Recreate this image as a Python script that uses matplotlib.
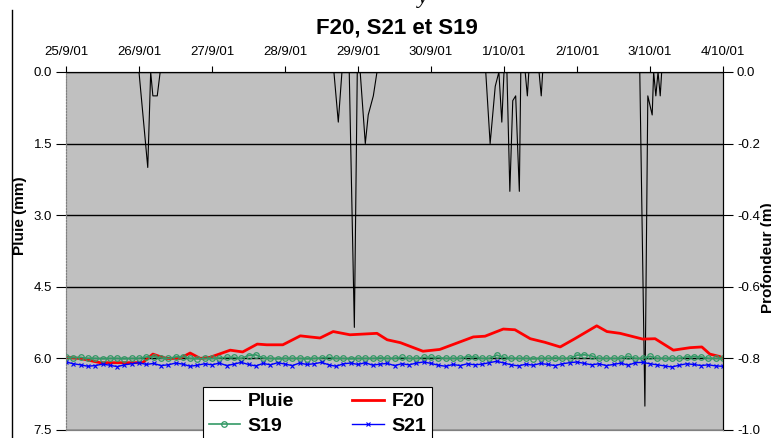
import numpy as np
import matplotlib.pyplot as plt
from matplotlib.lines import Line2D

plt.rcParams['font.family'] = ['Liberation Sans', 'DejaVu Sans']

# Axe du temps : jours depuis le 25/9/01
date_labels = ["25/9/01", "26/9/01", "27/9/01", "28/9/01", "29/9/01",
               "30/9/01", "1/10/01", "2/10/01", "3/10/01", "4/10/01"]

# Pluie (mm)
rain_t = [0.00, 1.00, 1.12, 1.16, 1.19, 1.25, 1.29,
          3.67, 3.73, 3.78, 3.88, 3.95, 3.99, 4.03, 4.10, 4.14, 4.21, 4.26,
          5.75, 5.81, 5.88, 5.93, 5.97, 6.00, 6.04, 6.08, 6.12, 6.16, 6.21, 6.23,
          6.29, 6.32, 6.34, 6.48, 6.51, 6.53,
          7.86, 7.93, 7.97, 8.03, 8.05, 8.08, 8.11, 8.14, 8.16, 9.00]
rain_mm = [0.0, 0.0, 2.0, 0.0, 0.5, 0.5, 0.0,
           0.0, 1.05, 0.0, 0.0, 5.35, 0.0, 0.0, 1.5, 0.9, 0.5, 0.0,
           0.0, 1.5, 0.3, 0.0, 1.05, 0.0, 0.0, 2.5, 0.6, 0.5, 2.5, 0.0,
           0.0, 0.5, 0.0, 0.0, 0.5, 0.0,
           0.0, 7.0, 0.5, 0.9, 0.0, 0.5, 0.0, 0.5, 0.0, 0.0]

# F20 (profondeur, m)
f20_t = [0.00, 0.19, 0.47, 1.05, 1.19, 1.29, 1.38, 1.56, 1.70, 1.84, 1.97,
         2.07, 2.25, 2.42, 2.62, 2.75, 2.97, 3.21, 3.34, 3.48, 3.66, 3.89,
         4.26, 4.40, 4.58, 4.89, 5.12, 5.58, 5.74, 5.99, 6.15, 6.36, 6.56,
         6.77, 6.97, 7.27, 7.41, 7.59, 7.90, 8.07, 8.32, 8.55, 8.71, 8.82,
         8.96, 9.00]
f20 = [-0.797, -0.800, -0.812, -0.812, -0.788, -0.795, -0.800, -0.800, -0.785,
       -0.800, -0.797, -0.790, -0.777, -0.782, -0.760, -0.762, -0.762, -0.737,
       -0.740, -0.743, -0.725, -0.734, -0.730, -0.748, -0.756, -0.780, -0.775,
       -0.740, -0.738, -0.718, -0.720, -0.745, -0.755, -0.768, -0.745, -0.709,
       -0.725, -0.730, -0.746, -0.745, -0.777, -0.770, -0.768, -0.788, -0.795,
       -0.800]

# S19 et S21, un point tous les 0.1 jour
s19 = [-0.797, -0.798, -0.797, -0.800, -0.800, -0.801, -0.800, -0.800, -0.801, -0.800,
       -0.800, -0.796, -0.795, -0.799, -0.800, -0.796, -0.795, -0.800, -0.801, -0.800,
       -0.800, -0.799, -0.797, -0.797, -0.800, -0.792, -0.790, -0.799, -0.800, -0.801,
       -0.800, -0.800, -0.800, -0.801, -0.800, -0.799, -0.797, -0.800, -0.800, -0.801,
       -0.800, -0.800, -0.800, -0.799, -0.800, -0.800, -0.797, -0.800, -0.800, -0.797,
       -0.797, -0.798, -0.800, -0.800, -0.800, -0.795, -0.796, -0.800, -0.800, -0.791,
       -0.797, -0.800, -0.800, -0.800, -0.801, -0.800, -0.800, -0.799, -0.800, -0.800,
       -0.791, -0.790, -0.793, -0.800, -0.800, -0.800, -0.800, -0.794, -0.800, -0.800,
       -0.794, -0.800, -0.800, -0.800, -0.800, -0.796, -0.795, -0.796, -0.800, -0.800,
       -0.800]
s21 = [-0.810, -0.815, -0.818, -0.822, -0.820, -0.816, -0.819, -0.823, -0.818, -0.815,
       -0.812, -0.817, -0.814, -0.820, -0.818, -0.813, -0.816, -0.822, -0.819, -0.815,
       -0.818, -0.813, -0.820, -0.816, -0.811, -0.817, -0.821, -0.814, -0.818, -0.812,
       -0.816, -0.820, -0.813, -0.817, -0.815, -0.811, -0.818, -0.822, -0.815, -0.813,
       -0.817, -0.812, -0.819, -0.816, -0.814, -0.820, -0.815, -0.818, -0.813, -0.810,
       -0.814, -0.819, -0.822, -0.817, -0.820, -0.815, -0.818, -0.816, -0.812, -0.808,
       -0.813, -0.818, -0.821, -0.816, -0.819, -0.814, -0.817, -0.820, -0.815, -0.812,
       -0.810, -0.814, -0.818, -0.815, -0.820, -0.817, -0.813, -0.819, -0.812, -0.811,
       -0.815, -0.818, -0.821, -0.824, -0.819, -0.815, -0.817, -0.820, -0.818, -0.821,
       -0.822]
s_t = np.arange(len(s19)) / 10.0

W, H = 771, 438
fig = plt.figure(figsize=(W / 100, H / 100), dpi=100)
ax = fig.add_axes([66 / W, 1 - 430 / H, (723 - 66) / W, (430 - 72) / H])
ax.set_facecolor('#c0c0c0')
ax2 = ax.twinx()

# Pluie sur l'axe de gauche (inversé)
l_pluie, = ax.plot(rain_t, rain_mm, color='black', lw=0.8, label='Pluie')
ax.set_ylim(7.5, 0)
ax.set_xlim(0, 9)
ax.set_yticks([0, 1.5, 3.0, 4.5, 6.0, 7.5])
ax.set_yticklabels(['0.0', '1.5', '3.0', '4.5', '6.0', '7.5'])
ax.grid(axis='y', color='black', lw=1)
ax.set_axisbelow(True)
ax.set_xticks(range(len(date_labels)))
ax.set_xticklabels(date_labels)
ax.tick_params(axis='x', top=True, bottom=False, labeltop=True, labelbottom=False,
               direction='out', length=4, labelsize=9.5, pad=6)
ax.tick_params(axis='y', direction='out', length=7, labelsize=9.5, pad=3)

# Profondeurs sur l'axe de droite
l_f20, = ax2.plot(f20_t, f20, color='#ff0000', lw=2, label='F20')
l_s19, = ax2.plot(s_t, s19, color='#339966', lw=1.2, marker='o', ms=4,
                  mfc='none', mew=0.9, label='S19')
l_s21, = ax2.plot(s_t, s21, color='#0000ff', lw=1, marker='x', ms=3.5,
                  mew=0.8, label='S21')
ax2.set_ylim(-1.0, 0.0)
ax2.set_yticks([-1.0, -0.8, -0.6, -0.4, -0.2, 0.0])
ax2.set_yticklabels(['-1.0', '-0.8', '-0.6', '-0.4', '-0.2', '0.0'])
ax2.tick_params(axis='y', direction='out', length=7, labelsize=9.5, pad=3)

for a in (ax, ax2):
    a.spines['top'].set_color('black')
    a.spines['right'].set_color('black')
    a.spines['bottom'].set_color('#808080')
    a.spines['left'].set_color('#808080')
    a.spines['left'].set_linestyle(':')

# Textes
fig.text(397 / W, 1 - 28 / H, 'F20, S21 et S19', ha='center', va='center',
         fontsize=16, fontweight='bold')
fig.text(20 / W, 1 - 216 / H, 'Pluie (mm)', rotation=90, ha='center', va='center',
         fontsize=11, fontweight='bold')
fig.text(768 / W, 1 - 258 / H, 'Profondeur (m)', rotation=90, ha='center',
         va='center', fontsize=11, fontweight='bold')
fig.text(423 / W, 1 - 3 / H, 'y', ha='center', va='baseline', fontsize=16,
         style='italic', family='Liberation Serif')
fig.add_artist(Line2D([12 / W, 12 / W], [0, 1 - 10 / H], color='black', lw=1))

leg = fig.legend([l_pluie, l_s19, l_f20, l_s21], ['Pluie', 'S19', 'F20', 'S21'],
                 loc='upper left', bbox_to_anchor=(203 / W, 1 - 387 / H), ncol=2,
                 prop={'weight': 'bold', 'size': 14}, fancybox=False,
                 edgecolor='black', framealpha=1, borderaxespad=0,
                 handlelength=1.6, labelspacing=0.35, borderpad=0.3,
                 columnspacing=3.0, handletextpad=0.4)
leg.get_frame().set_linewidth(0.8)

fig.savefig('out.png', dpi=100)
